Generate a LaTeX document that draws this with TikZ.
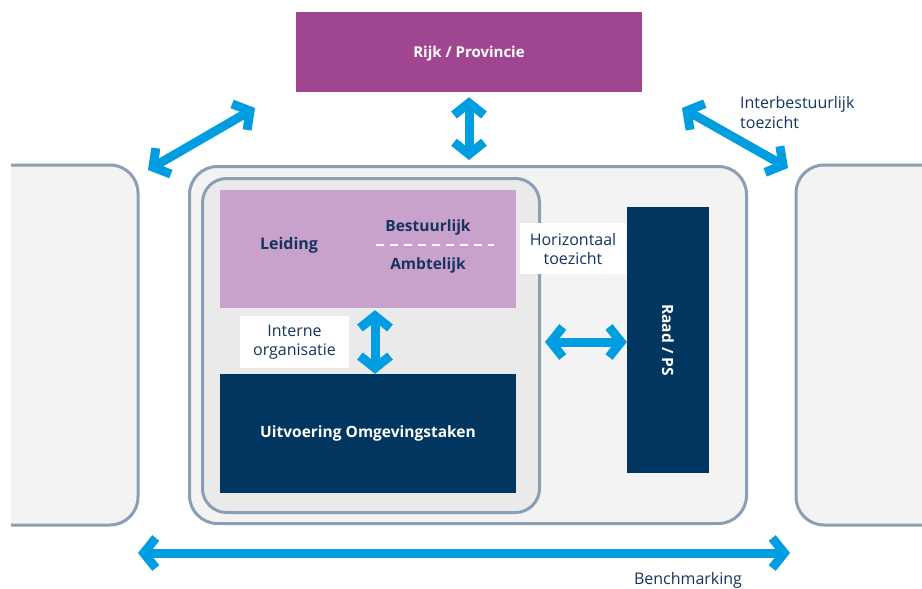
\documentclass[tikz,border=0pt]{standalone}
\usepackage{fontspec}
\setmainfont{Open Sans}
\usetikzlibrary{arrows.meta}
\definecolor{rijkpaars}{RGB}{160,70,145}
\definecolor{lichtpaars}{RGB}{201,162,203}
\definecolor{donkerblauw}{RGB}{1,54,96}
\definecolor{tekstblauw}{RGB}{21,52,96}
\definecolor{pijlblauw}{RGB}{0,158,224}
\definecolor{randgrijs}{RGB}{138,159,180}
\definecolor{vlakgrijs}{RGB}{243,243,244}
\definecolor{binnengrijs}{RGB}{234,234,235}
\tikzset{
	pijl/.style={draw=pijlblauw, line width=9pt, {Straight Barb[length=12pt,width=30pt]}-{Straight Barb[length=12pt,width=30pt]}},
	blok/.style={draw=randgrijs, line width=3pt, rounded corners=28pt},
	label/.style={fill=white, text=tekstblauw, align=center, inner sep=0pt, font=\fontsize{16}{19}\selectfont},
	vet/.style={font=\fontsize{15.5}{18}\selectfont\bfseries},
}

\begin{document}
\begin{tikzpicture}[x=1pt, y=-1pt]
		%%%%% START %%%%%
		\useasboundingbox (0,0) rectangle (922,589);
		
		% buren links en rechts
		\draw[blok, fill=vlakgrijs] (11,165) -- (138,165) -- (138,525) -- (11,525);
		\draw[blok, fill=vlakgrijs] (922,165) -- (796,165) -- (796,525) -- (922,525);
		
		% gemeente
		\node[blok, fill=vlakgrijs, minimum width=557pt, minimum height=357pt] (gemeente) at (468,345) {};
		\node[blok, fill=binnengrijs, minimum width=337pt, minimum height=334pt, rounded corners=24pt] (binnen) at (371,345.5) {};
		
		\node[fill=rijkpaars, minimum width=346pt, minimum height=80pt] (rijk) at (469,52) {};
		\node[vet, text=white, font=\fontsize{15}{18}\selectfont\bfseries] (rijktxt) at (469,53.5) {Rijk / Provincie};
		
		\node[fill=lichtpaars, minimum width=296pt, minimum height=118pt] (leiding) at (368,249) {};
		\node[vet, text=tekstblauw, font=\fontsize{16}{18}\selectfont\bfseries] (leidingtxt) at (289,245) {Leiding};
		\node[vet, text=tekstblauw] (bestuurlijk) at (428,227) {Bestuurlijk};
		\node[vet, text=tekstblauw] (ambtelijk) at (428,265) {Ambtelijk};
		\draw[white, line width=1.8pt, dash pattern=on 8pt off 6pt] (376,245) -- (494,245);
		
		\node[vet, fill=donkerblauw, minimum width=296pt, minimum height=119pt, text=white] (uitvoering) at (368,433.5) {Uitvoering Omgevingstaken};
		
		\node[fill=donkerblauw, minimum width=82pt, minimum height=266pt] (raad) at (668,340) {};
		\node[vet, rotate=-90, text=white] (raadtxt) at (raad.center) {Raad / PS};
		
		\node[label, minimum width=106pt, minimum height=51pt] (horizontaal) at (573,248.5) {Horizontaal\\toezicht};
		\node[label, minimum width=109pt, minimum height=52pt] (interne) at (294.5,342) {Interne\\organisatie};
		\node[text=tekstblauw, align=left, anchor=north west, inner sep=0pt, font=\fontsize{16}{20}\selectfont] (interbestuurlijk) at (740,96) {Interbestuurlijk\\toezicht};
		\node[text=tekstblauw, font=\fontsize{16}{18}\selectfont] (benchmarking) at (688,580) {Benchmarking};
		
		% pijlen
		\coordinate (lo) at (148,170);
		\coordinate (lb) at (255,108);
		\coordinate (rb) at (682,108);
		\coordinate (ro) at (788,168);
		\coordinate (bml) at (138,553);
		\coordinate (bmr) at (790,553);
		\draw[pijl] (lo) -- (lb);
		\draw[pijl] (rb) -- (ro);
		\draw[pijl] (bml) -- (bmr);
		\draw[pijl, shorten <=5pt, shorten >=5pt] (rijk.south) -- (rijk.south |- gemeente.north);
		\draw[pijl, shorten <=2pt] ([xshift=7pt]leiding.south) -- ([xshift=7pt]uitvoering.north);
		\draw[pijl, shorten <=4pt] ([yshift=-2pt]raad.west -| binnen.east) -- ([yshift=-2pt]raad.west);
		%%%%% END %%%%%
	\end{tikzpicture}
\end{document}
